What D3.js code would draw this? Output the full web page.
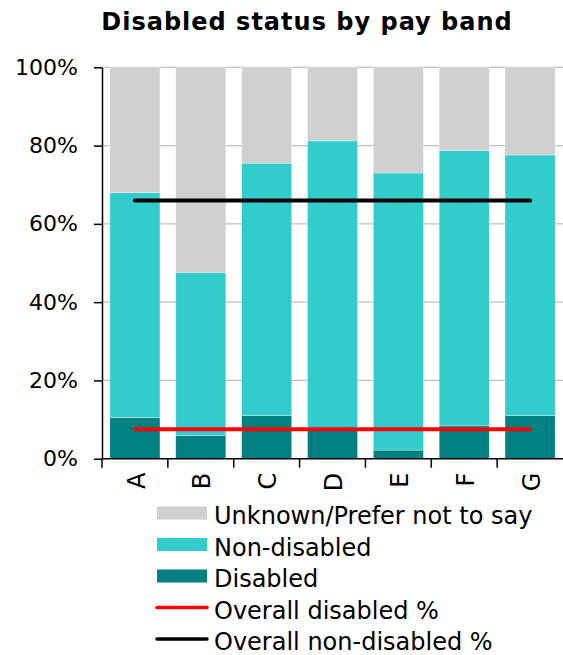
<!DOCTYPE html>
<html>
<head>
<meta charset="utf-8">
<script src="https://cdn.jsdelivr.net/npm/d3@7"></script>
<style>
  body { margin: 0; background: #fff; }
  svg { display: block; font-family: "DejaVu Sans", Verdana, sans-serif; }
</style>
</head>
<body>
<div id="chartId"></div>
<script>
/*
Data
*/
const bands = ["A", "B", "C", "D", "E", "F", "G"];
const disabled = [10.5, 5.9, 11.0, 7.2, 2.2, 8.4, 11.0];
const nonDisabled = [57.5, 41.7, 64.5, 74.0, 70.8, 70.3, 66.6];
const unknown = bands.map((b, i) => 100 - disabled[i] - nonDisabled[i]);
const overallDisabled = 7.5;
const overallNonDisabled = 66.0;
const yTicks = [0, 20, 40, 60, 80, 100];

const seriesNames = ["Disabled", "Non-disabled", "Unknown/Prefer not to say"];
const seriesColors = ["#008080", "#33cccc", "#d0d0d0"];

/*
Layout
*/
const width = 563, height = 655;
const x0 = 102, x1 = 563, yTop = 67.3, yBottom = 458.7;

const svg = d3.select("#chartId")
    .append("svg")
    .attr("width", width)
    .attr("height", height);

const x = d3.scaleBand()
    .domain(bands)
    .range([x0, x1])
    .paddingInner(0.24)
    .paddingOuter(0.12);

const y = d3.scaleLinear()
    .domain([0, 100])
    .range([yBottom, yTop]);

// title
svg.append("text")
    .attr("x", 307)
    .attr("y", 30)
    .attr("text-anchor", "middle")
    .attr("font-size", 24)
    .attr("font-weight", "bold")
    .attr("letter-spacing", 1)
    .text("Disabled status by pay band");

// gridlines
svg.append("g")
    .selectAll("line")
    .data(yTicks.filter(d => d > 0))
    .join("line")
    .attr("x1", x0)
    .attr("x2", x1)
    .attr("y1", d => y(d))
    .attr("y2", d => y(d))
    .attr("stroke", "#c0c0c0")
    .attr("stroke-width", 1.2);

// stacked bars
const rows = bands.map((b, i) => ({
    band: b,
    "Disabled": disabled[i],
    "Non-disabled": nonDisabled[i],
    "Unknown/Prefer not to say": unknown[i]
}));
const stacked = d3.stack().keys(seriesNames)(rows);

svg.append("g")
    .selectAll("g")
    .data(stacked)
    .join("g")
    .attr("fill", (d, i) => seriesColors[i])
    .selectAll("rect")
    .data(d => d)
    .join("rect")
    .attr("x", d => x(d.data.band))
    .attr("width", x.bandwidth())
    .attr("y", d => y(d[1]))
    .attr("height", d => y(d[0]) - y(d[1]))
    .attr("stroke", "#ffffff")
    .attr("stroke-opacity", 0.5)
    .attr("stroke-width", 0.6);

// overall lines: from first band centre to last band centre
const lineX1 = x(bands[0]) + x.bandwidth() / 2;
const lineX2 = x(bands[bands.length - 1]) + x.bandwidth() / 2;
[[overallNonDisabled, "#000000"], [overallDisabled, "#ff0000"]].forEach(([v, c]) => {
    svg.append("line")
        .attr("x1", lineX1)
        .attr("x2", lineX2)
        .attr("y1", y(v))
        .attr("y2", y(v))
        .attr("stroke", c)
        .attr("stroke-width", 4)
        .attr("stroke-linecap", "round");
});

// y axis
const yAxis = svg.append("g")
    .attr("transform", `translate(${x0},0)`)
    .call(d3.axisLeft(y).tickValues(yTicks).tickFormat(d => d + "%").tickSize(8).tickSizeOuter(0));
yAxis.select(".domain").attr("stroke", "#000").attr("stroke-width", 1.5);
yAxis.selectAll(".tick line").attr("stroke", "#000").attr("stroke-width", 1.5);
yAxis.selectAll(".tick text")
    .attr("x", -24)
    .attr("font-size", 22)
    .attr("font-family", "DejaVu Sans, sans-serif")
    .attr("fill", "#000");

// x axis: ticks at band boundaries
const xAxis = svg.append("g").attr("transform", `translate(0,${yBottom})`);
xAxis.append("line")
    .attr("x1", x0)
    .attr("x2", x1)
    .attr("stroke", "#000")
    .attr("stroke-width", 1.5);
xAxis.selectAll("line.tick")
    .data(bands)
    .join("line")
    .attr("class", "tick")
    .attr("x1", d => x(d) - x.step() * x.paddingInner() / 2)
    .attr("x2", d => x(d) - x.step() * x.paddingInner() / 2)
    .attr("y1", 0)
    .attr("y2", 9)
    .attr("stroke", "#000")
    .attr("stroke-width", 1.5);
xAxis.selectAll("text")
    .data(bands)
    .join("text")
    .attr("transform", d => `translate(${x(d) + x.bandwidth() / 2 + 1},14) rotate(-90)`)
    .attr("text-anchor", "end")
    .attr("dy", "0.36em")
    .attr("font-size", 24)
    .text(d => d);

// legend
const legendItems = [
    { name: "Unknown/Prefer not to say", color: "#d0d0d0", type: "rect" },
    { name: "Non-disabled", color: "#33cccc", type: "rect" },
    { name: "Disabled", color: "#008080", type: "rect" },
    { name: "Overall disabled %", color: "#ff0000", type: "line" },
    { name: "Overall non-disabled %", color: "#000000", type: "line" }
];
const legend = svg.append("g").attr("transform", "translate(157,513)");
const item = legend.selectAll("g")
    .data(legendItems)
    .join("g")
    .attr("transform", (d, i) => `translate(0,${i * 31.5})`);
item.filter(d => d.type == "rect")
    .append("rect")
    .attr("x", 0)
    .attr("y", -6.5)
    .attr("width", 50)
    .attr("height", 13)
    .attr("fill", d => d.color);
item.filter(d => d.type == "line")
    .append("line")
    .attr("x1", 0)
    .attr("x2", 50)
    .attr("stroke", d => d.color)
    .attr("stroke-width", 3.5)
    .attr("stroke-linecap", "round");
item.append("text")
    .attr("x", 57)
    .attr("y", 11)
    .attr("font-size", 24)
    .text(d => d.name);
</script>
</body>
</html>
